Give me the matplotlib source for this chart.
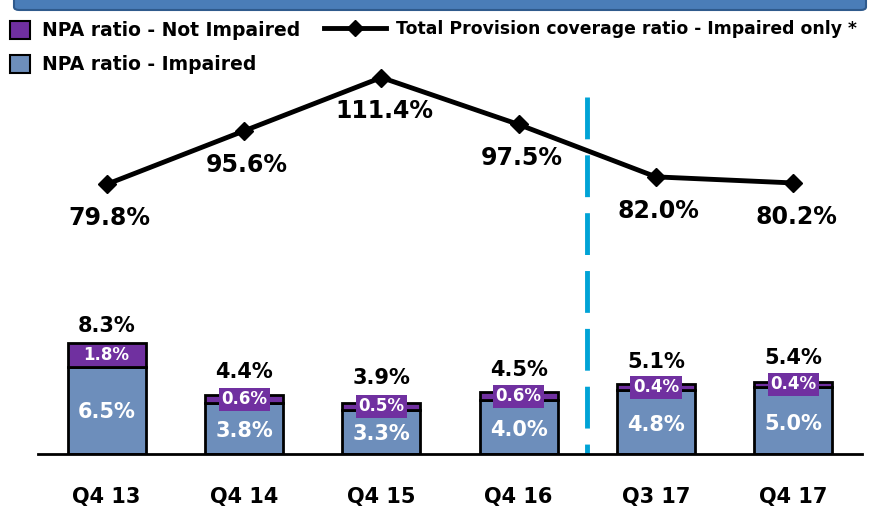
import numpy as np
import matplotlib.pyplot as plt
from matplotlib.patches import FancyBboxPatch, Rectangle
from matplotlib.lines import Line2D

# data
quarters = ['Q4 13', 'Q4 14', 'Q4 15', 'Q4 16', 'Q3 17', 'Q4 17']
impaired = [6.5, 3.8, 3.3, 4.0, 4.8, 5.0]
not_impaired = [1.8, 0.6, 0.5, 0.6, 0.4, 0.4]
totals = [8.3, 4.4, 3.9, 4.5, 5.1, 5.4]
coverage = [79.8, 95.6, 111.4, 97.5, 82.0, 80.2]

purple = '#7030A0'
blue = '#6D8EBB'
cyan = '#00A3D6'

fig = plt.figure(figsize=(8.71, 5.08), dpi=100)
W, H = 871, 508
ax = fig.add_axes([38 / W, (H - 454) / H, (862 - 38) / W, (454 - 40) / H])
ax2 = ax.twinx()

x = np.arange(len(quarters))
width = 0.57

ax.bar(x, impaired, width, color=blue, edgecolor='black', linewidth=2, zorder=2)
ax.bar(x, not_impaired, width, bottom=impaired, color=purple, edgecolor='black',
       linewidth=2, zorder=2)

ax.set_xlim(-0.5, len(quarters) - 0.5)
ax.set_ylim(0, 30.9)
ax2.set_ylim(0, 122.5)

for a in (ax, ax2):
    for s in ('top', 'right', 'left'):
        a.spines[s].set_visible(False)
    a.set_yticks([])
ax.spines['bottom'].set_linewidth(2)
ax2.spines['bottom'].set_visible(False)
ax.set_xticks(x, quarters, fontsize=15, fontweight='bold')
ax.tick_params(axis='x', length=0, pad=24)

# labels on bars
for i in range(len(quarters)):
    ax.text(x[i], impaired[i] / 2 - 0.1 if impaired[i] > 5 else impaired[i] * 0.45,
            f'{impaired[i]:.1f}%', ha='center', va='center', color='white',
            fontsize=15, fontweight='bold', zorder=4)
    ymid = impaired[i] + not_impaired[i] / 2
    if not_impaired[i] > 1:
        ax.text(x[i], ymid, f'{not_impaired[i]:.1f}%', ha='center', va='center',
                color='white', fontsize=12, fontweight='bold', zorder=4)
    else:
        ax.text(x[i], ymid, f'{not_impaired[i]:.1f}%', ha='center', va='center',
                color='white', fontsize=12, fontweight='bold', zorder=4,
                bbox=dict(boxstyle='square,pad=0.15', facecolor=purple, edgecolor='none'))
    ax.text(x[i], totals[i] + 0.5 + (0.5 if not_impaired[i] < 1 else 0),
            f'{totals[i]:.1f}%', ha='center', va='bottom', fontsize=15,
            fontweight='bold', zorder=4)

# coverage line
ax2.plot(x, coverage, color='black', linewidth=3.5, marker='D', markersize=9,
         zorder=5)
for i in range(len(quarters)):
    ax2.text(x[i] + 0.02, coverage[i] - 10, f'{coverage[i]:.1f}%', ha='center',
             va='center', fontsize=17, fontweight='bold')

# separator, drawn top-down so the dash pattern starts at the top
ax.plot([3.5, 3.5], [(454 - 97) / 414, 0], transform=ax.get_xaxis_transform(),
        color=cyan, linewidth=3.5, linestyle=(0, (8.6, 3.3)), zorder=1,
        solid_capstyle='butt', dash_capstyle='butt')

# top banner
fig.patches.append(FancyBboxPatch((14 / W, 1 - 10 / H), (852) / W, 14 / H,
                                  boxstyle='round,pad=0,rounding_size=0.006',
                                  transform=fig.transFigure, facecolor='#4A7DB8',
                                  edgecolor='#2F5A8C', linewidth=1.5))

# legend
handles = [Rectangle((0, 0), 1, 1, facecolor=purple, edgecolor='black', linewidth=1.5),
           Rectangle((0, 0), 1, 1, facecolor=blue, edgecolor='black', linewidth=1.5),
           Line2D([], [], color='black', linewidth=3.5, marker='D', markersize=8)]
labels = ['NPA ratio - Not Impaired', 'NPA ratio - Impaired',
          'Total Provision coverage ratio - Impaired only *']
fig.legend(handles[:2], labels[:2], loc='upper left', bbox_to_anchor=(-0.004, 0.985),
           frameon=False, prop={'size': 13.5, 'weight': 'bold'}, handlelength=1.1,
           handleheight=1.1, handletextpad=0.6, labelspacing=0.8, borderaxespad=0.3)
fig.legend(handles[2:], labels[2:], loc='upper left', bbox_to_anchor=(0.358, 0.985),
           frameon=False, prop={'size': 12.4, 'weight': 'bold'}, handlelength=3.6,
           handletextpad=0.6, borderaxespad=0.3)

fig.savefig('out.png', dpi=100)
